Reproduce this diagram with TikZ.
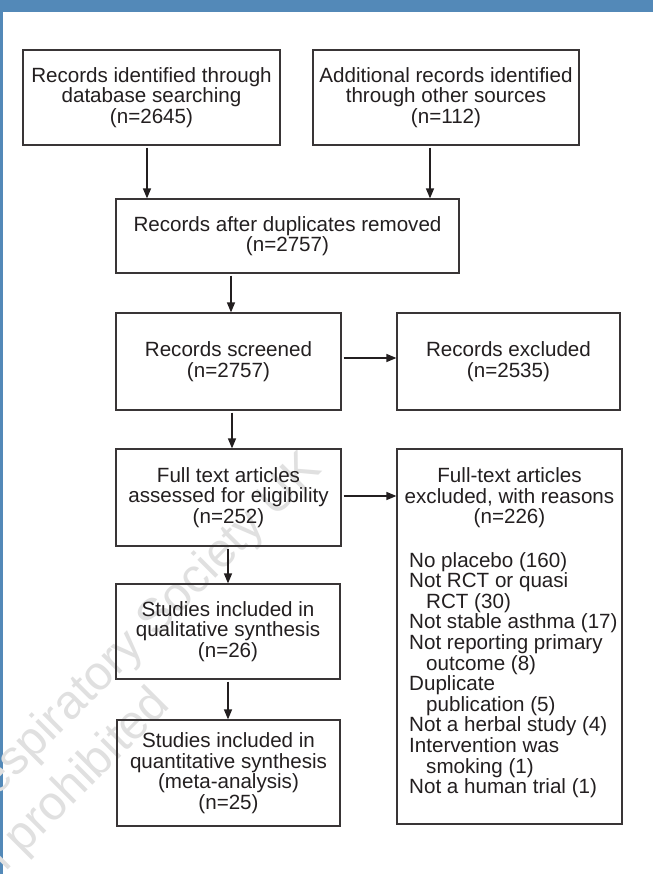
\documentclass[tikz,border=0pt]{standalone}
\usepackage{fontspec}
\setmainfont{Liberation Sans}
\usetikzlibrary{arrows.meta,calc}
\definecolor{barblue}{RGB}{83,137,184}
\definecolor{ink}{RGB}{35,31,32}
\definecolor{wm}{RGB}{224,224,224}
\begin{document}
\begin{tikzpicture}[x=1pt,y=-1pt,
  box/.style={draw=ink!90, line width=1.2pt, align=center, inner sep=0pt, text=ink,
              font=\fontsize{20.6}{20.6}\selectfont},
  txt/.style={inner sep=0pt, text=ink, font=\fontsize{20.6}{20.6}\selectfont},
  arr/.style={draw=ink, line width=1.3pt, -{Triangle[length=10pt,width=8pt]}, shorten <=2pt},
  wmark/.style={text=wm, font=\fontsize{48}{48}\selectfont, rotate=45, inner sep=0pt}]
\useasboundingbox (0,0) rectangle (653,874);
\fill[white] (0,0) rectangle (653,874);
\fill[barblue] (0,0) rectangle (653,12);
\fill[barblue] (0,12) rectangle (3,874);
% watermark
\node[wmark, anchor=base west] (wm1) at (-28,822) {Respiratory Society UK};
\node[wmark, anchor=base west] (wm2) at (-6,884) {n prohibited};
% boxes
\node[box, minimum width=257pt, minimum height=95pt] (A) at (151.5,97.5)
  {Records identified through\\database searching\\(n=2645)};
\node[box, minimum width=266pt, minimum height=95pt] (B) at (446,97.5)
  {Additional records identified\\through other sources\\(n=112)};
\node[box, minimum width=343pt, minimum height=74pt] (C) at (287.5,236)
  {Records after duplicates removed\\(n=2757)};
\node[box, minimum width=225pt, minimum height=97pt] (D) at (228.5,361.5)
  {Records screened\\(n=2757)};
\node[box, minimum width=223pt, minimum height=97pt] (E) at (508.5,361.5)
  {Records excluded\\(n=2535)};
\node[box, minimum width=225pt, minimum height=97pt] (F) at (228.5,497.5)
  {Full text articles\\assessed for eligibility\\(n=252)};
\node[box, minimum width=225pt, minimum height=375pt] (G) at (509.5,636.5) {};
\node[txt, align=center] (Gh) at (509.5,498)
  {Full-text articles\\excluded, with reasons\\(n=226)};
\node[txt, align=left, anchor=north west] (Gl) at (409,552)
  {No placebo (160)\\Not RCT or quasi\\\hspace*{17pt}RCT (30)\\Not stable asthma (17)\\%
   Not reporting primary\\\hspace*{17pt}outcome (8)\\Duplicate\\\hspace*{17pt}publication (5)\\%
   Not a herbal study (4)\\Intervention was\\\hspace*{17pt}smoking (1)\\Not a human trial (1)};
\node[box, minimum width=224pt, minimum height=95pt] (H) at (228,631.5)
  {Studies included in\\qualitative synthesis\\(n=26)};
\node[box, minimum width=223pt, minimum height=106pt] (I) at (228.5,773)
  {Studies included in\\quantitative synthesis\\(meta-analysis)\\(n=25)};
% connector positions
\coordinate (xAC) at (147,0);
\coordinate (xBC) at (430,0);
\coordinate (xCD) at (231,0);
\coordinate (xDF) at (232,0);
\coordinate (xFH) at (228,0);
\coordinate (yDE) at (0,358);
\coordinate (yFG) at (0,496);
% arrows
\draw[arr] (A.south -| xAC) -- (C.north -| xAC);
\draw[arr] (B.south -| xBC) -- (C.north -| xBC);
\draw[arr] (C.south -| xCD) -- (D.north -| xCD);
\draw[arr] (D.south -| xDF) -- (F.north -| xDF);
\draw[arr] (F.south -| xFH) -- (H.north -| xFH);
\draw[arr] (H.south -| xFH) -- (I.north -| xFH);
\draw[arr] (D.east |- yDE) -- (E.west |- yDE);
\draw[arr] (F.east |- yFG) -- (G.west |- yFG);
\end{tikzpicture}
\end{document}
